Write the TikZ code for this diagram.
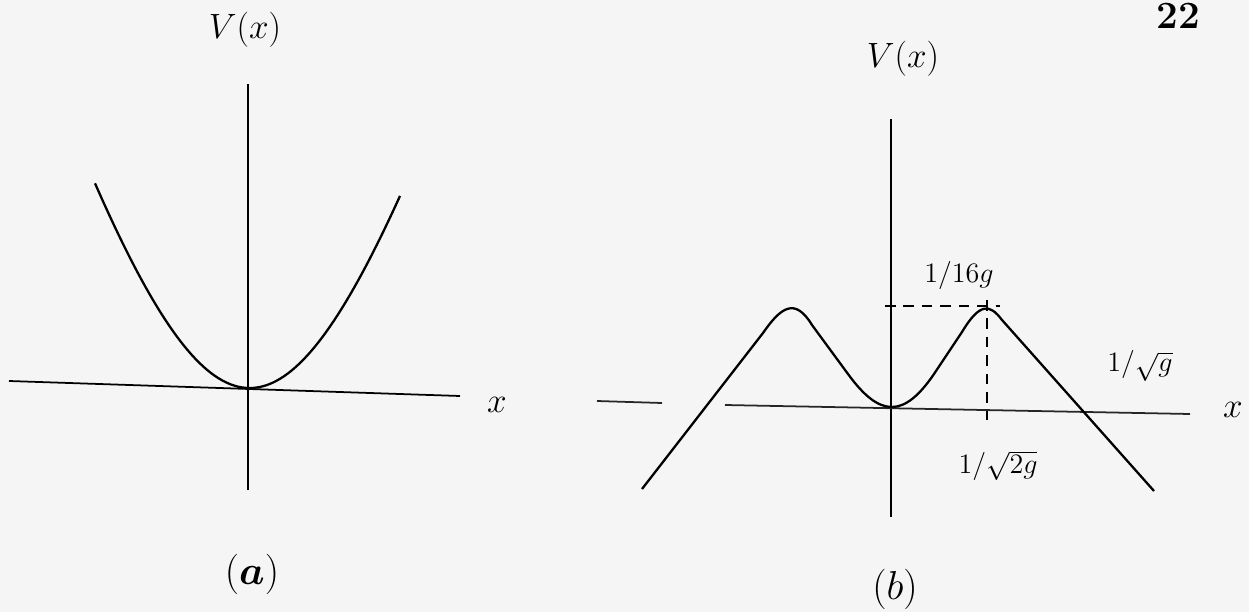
\RequirePackage{fix-cm}
\documentclass[tikz,border=0pt]{standalone}
\usepackage{amsmath,amssymb}
\usepackage{tikz}
\usetikzlibrary{calc}

\begin{document}
\begin{tikzpicture}[
      x=0.02cm, y=-0.02cm,
      axis/.style={line width=1pt},
      curve/.style={line width=1.3pt, line join=round},
      guide/.style={line width=1pt, dash pattern=on 6pt off 4.5pt},
      big/.style={font=\fontsize{20}{24}\selectfont, inner sep=0pt},
      lbl/.style={font=\fontsize{16}{19}\selectfont, inner sep=0pt},
      panelname/.style={font=\fontsize{23}{27}\selectfont, inner sep=0pt},
      pagenum/.style={font=\fontsize{22}{26}\selectfont\bfseries, inner sep=0pt},
    ]

    % Page frame
    \fill[white!96!black] (0,0) rectangle (1249,612);
    \useasboundingbox (0,0) rectangle (1249,612);

    % Panel (a): axes
    \coordinate (aTop) at (248,84);
    \coordinate (aBot) at (248,490);
    \coordinate (aL)   at (9,381);
    \coordinate (aR)   at (460,396);
    \draw[axis] (aTop) -- (aBot);
    \draw[axis] (aL) -- (aR);

    % Panel (a): single well
    \draw[curve] plot[domain=-153:152, samples=80]
      ({248+\x}, {388+0.0341*(\x)-520*(sqrt(1+((\x)/160)^2)-1)});

    % Panel (a): labels
    \node[big] (aV) at (245,30) {$V(x)$};
    \node[big] (ax) at (497,405) {$x$};
    \node[panelname] (aName) at (252,574) {$(\boldsymbol{a})$};

    % Panel (b): axes
    \coordinate (bTop) at (891,119);
    \coordinate (bBot) at (891,517);
    \coordinate (bL0)  at (597,401);
    \coordinate (bL1)  at (662,403);
    \coordinate (bL)   at (725,405);
    \coordinate (bR)   at (1190,414);
    \draw[axis] (bTop) -- (bBot);
    \draw[axis, black!85] (bL0) -- (bL1);
    \draw[axis, black!85] (bL) -- (bR);

    % Panel (b): double well
    \draw[curve] (642,489) -- (763,333)
      .. controls (781,307) and (795,297) .. (812,325)
      -- (848,374)
      .. controls (880,418) and (904,418) .. (934,374)
      -- (962,332)
      .. controls (980,302) and (990,304) .. (1002,320)
      -- (1154,491);

    % Panel (b): barrier top
    \coordinate (hL) at (885,306);
    \coordinate (hR) at (1000,306);
    \coordinate (vT) at (987,300);
    \coordinate (vB) at (987,420);
    \draw[guide] (hL) -- (hR);
    \draw[guide] (vT) -- (vB);

    % Panel (b): labels
    \node[big] (bV) at (903,59) {$V(x)$};
    \node[big] (bx) at (1233,410) {$x$};
    \node[lbl] (hgt) at (959,275) {$1/16g$};
    \node[lbl] (edge) at (1140,366) {$1/\sqrt{g}$};
    \node[lbl] (turn) at (998,466) {$1/\sqrt{2g}$};
    \node[panelname] (bName) at (895,589) {$(b)$};

    % Page number
    \node[pagenum] (pg) at (1178,16) {22};

\end{tikzpicture}
\end{document}
